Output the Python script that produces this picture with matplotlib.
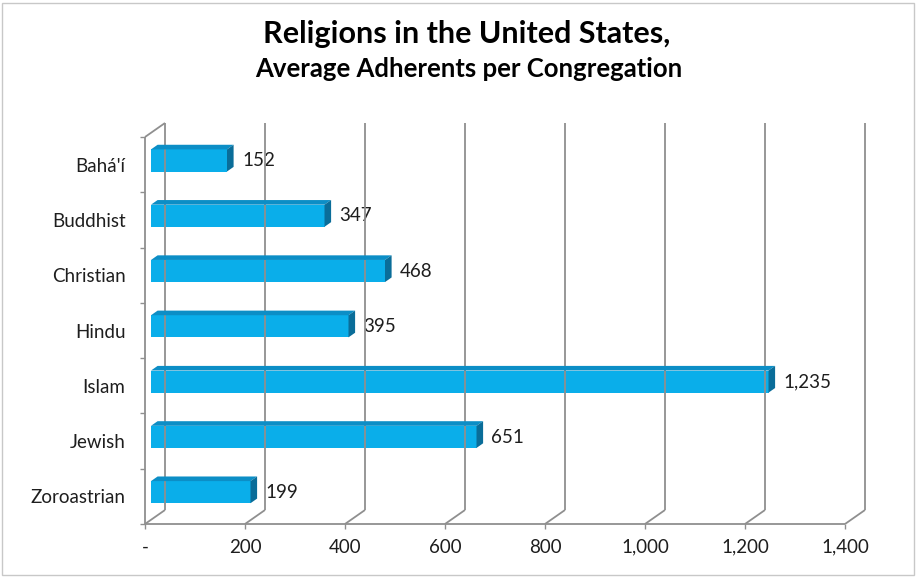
import matplotlib
matplotlib.use("Agg")
import matplotlib.pyplot as plt
from matplotlib.patches import Polygon, Rectangle
from matplotlib.lines import Line2D
from matplotlib.transforms import offset_copy, IdentityTransform

categories = ["Bahá'í", "Buddhist", "Christian", "Hindu", "Islam", "Jewish", "Zoroastrian"]
values = [152, 347, 468, 395, 1235, 651, 199]
x_ticks = [0, 200, 400, 600, 800, 1000, 1200, 1400]
x_tick_labels = ["-", "200", "400", "600", "800", "1,000", "1,200", "1,400"]
title = "Religions in the United States,"
subtitle = "Average Adherents per Congregation"

plt.rcParams['font.family'] = ['Lato', 'DejaVu Sans']

W, H = 917, 577
fig = plt.figure(figsize=(W / 100, H / 100), dpi=100)
fig.patch.set_facecolor('white')
ax = fig.add_axes([145 / W, (H - 524) / H, 700 / W, (524 - 137) / H])
n = len(categories)
ax.set_xlim(0, 1400)
ax.set_ylim(n - 0.5, -0.5)
for s in ax.spines.values():
    s.set_visible(False)
ax.patch.set_visible(False)

DX, DY = 20, 14
GRID = '#8f8f8f'
TXT = '#1e1e1e'
FS = 13.5

def px(x, y, d=0.0):
    X, Y = ax.transData.transform((x, y))
    return X + d * DX, Y + d * DY

def seg(p, q, z=1):
    fig.add_artist(Line2D([p[0], q[0]], [p[1], q[1]], transform=IdentityTransform(),
                          color=GRID, lw=1.3, zorder=z, solid_capstyle='butt'))

# back wall verticals and floor diagonals
for t in x_ticks:
    seg(px(t, n - 0.5, 1), px(t, -0.5, 1))
    seg(px(t, n - 0.5, 0), px(t, n - 0.5, 1))
# front axis and left wall
seg(px(0, n - 0.5), px(1400, n - 0.5))
seg(px(0, n - 0.5), px(0, -0.5))
seg(px(0, -0.5), px(0, -0.5, 1))

# bars
d0, d1 = 0.3, 0.33
h = 0.4
FRONT, TOP, SIDE = '#0aaeea', '#0c8ec6', '#0a6d99'
ys = list(range(n))
ax.barh(ys, values, height=h, left=0, color=FRONT, zorder=3,
        transform=offset_copy(ax.transData, fig, x=d0 * DX, y=d0 * DY, units='dots'))
for i, v in zip(ys, values):
    yt, yb = i - h / 2, i + h / 2
    top = [px(0, yt, d0), px(v, yt, d0), px(v, yt, d0 + d1), px(0, yt, d0 + d1)]
    side = [px(v, yt, d0), px(v, yb, d0), px(v, yb, d0 + d1), px(v, yt, d0 + d1)]
    fig.add_artist(Polygon(top, closed=True, transform=IdentityTransform(),
                           facecolor=TOP, edgecolor='none', zorder=4))
    fig.add_artist(Polygon(side, closed=True, transform=IdentityTransform(),
                           facecolor=SIDE, edgecolor='none', zorder=4))
    ax.text(v, i, f"{v:,}", transform=offset_copy(ax.transData, fig, x=21, y=4, units='dots'),
            va='center', ha='left', fontsize=FS, color=TXT)

# ticks
ax.set_xticks(x_ticks, x_tick_labels)
ax.set_yticks(ys, categories)
ax.set_yticks([k - 0.5 for k in range(n + 1)], minor=True)
ax.tick_params(axis='x', which='major', length=3.6, width=1, color=GRID, pad=7,
               labelsize=FS, labelcolor=TXT)
ax.tick_params(axis='y', which='major', length=0, pad=14, labelsize=FS, labelcolor=TXT)
ax.tick_params(axis='y', which='minor', length=3.6, width=1, color=GRID)

fig.text(467 / W, (H - 43) / H, title, ha='center', va='baseline', fontsize=22,
         fontweight='bold', color='black')
fig.text(469 / W, (H - 77) / H, subtitle, ha='center', va='baseline', fontsize=18.5,
         fontweight='bold', color='black')

fig.add_artist(Rectangle((2, 2), W - 5, H - 5, transform=IdentityTransform(),
                         fill=False, edgecolor='#c8c8c8', lw=1))

fig.savefig('out.png', dpi=100, facecolor='white')
